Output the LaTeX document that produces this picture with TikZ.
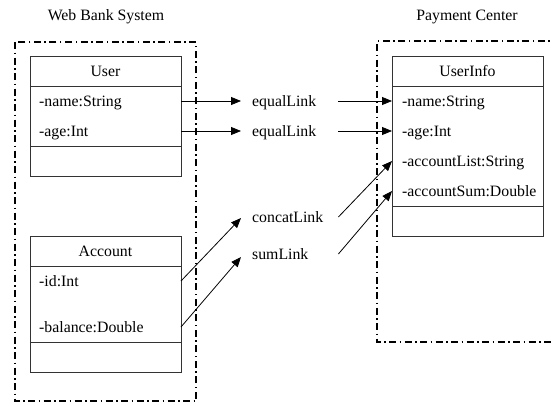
\documentclass[tikz,border=0pt]{standalone}
\usepackage{fontspec}
\setmainfont{Liberation Serif}
\usetikzlibrary{arrows.meta}

\tikzset{
  base/.style={font=\fontsize{15.8}{18}\selectfont, inner sep=0pt},
  title/.style={base, anchor=center},
  attr/.style={base, anchor=west, text height=10.5pt, text depth=0pt},
  link/.style={base, anchor=west, text width=86pt, align=left, text height=10.5pt, text depth=0pt},
  cls/.style={draw=black!80, line width=0.9pt, inner sep=0pt, outer sep=0pt, anchor=north west, minimum width=151pt},
  rule/.style={draw=black!80, line width=0.9pt},
  frame/.style={line width=1.5pt, dash pattern=on 7pt off 3.5pt on 1.5pt off 3.5pt},
  arr/.style={line width=0.8pt, -{Triangle[length=10pt, width=8pt]}}
}

\begin{document}
\begin{tikzpicture}[x=1pt, y=-1pt]
  \useasboundingbox (0,0) rectangle (552,405);

  % system frames
  \draw[frame] (15,42) rectangle (196,401);
  \draw[frame] (560,41) -- (377,41) -- (377,342) -- (560,342);
  \node[title] (wbs) at (106,17) {Web Bank System};
  \node[title] (pc) at (467,17) {Payment Center};

  % class User
  \node[cls, minimum height=120pt] (User) at (30,56) {};
  \draw[rule] (30,86) -- (181,86);
  \draw[rule] (30,146) -- (181,146);
  \node[title] (userT) at (105.5,71) {User};
  \node[attr] (uName) at (39,101) {-name:String};
  \node[attr] (uAge) at (39,131) {-age:Int};

  % class Account
  \node[cls, minimum height=136pt] (Account) at (30,236) {};
  \draw[rule] (30,266) -- (181,266);
  \draw[rule] (30,342) -- (181,342);
  \node[title] (accT) at (105.5,251) {Account};
  \node[attr] (aId) at (39,281) {-id:Int};
  \node[attr] (aBal) at (39,327) {-balance:Double};

  % class UserInfo
  \node[cls, minimum height=180pt] (Info) at (392,56) {};
  \draw[rule] (392,86) -- (543,86);
  \draw[rule] (392,206) -- (543,206);
  \node[title] (infoT) at (467.5,71) {UserInfo};
  \node[attr] (iName) at (402,101) {-name:String};
  \node[attr] (iAge) at (402,131) {-age:Int};
  \node[attr] (iList) at (402,161) {-accountList:String};
  \node[attr] (iSum) at (402,191) {-accountSum:Double};

  % link labels
  \node[link] (eq1) at (252,101) {equalLink};
  \node[link] (eq2) at (252,131) {equalLink};
  \node[link] (cl) at (252,217) {concatLink};
  \node[link] (sl) at (252,254) {sumLink};

  % source attributes to links
  \draw[arr] (User.east |- uName) -- ([xshift=-11pt]eq1.west);
  \draw[arr] (User.east |- uAge) -- ([xshift=-11pt]eq2.west);
  \draw[arr] (Account.east |- aId) -- ([xshift=-11pt,yshift=-1pt]cl.west);
  \draw[arr] (Account.east |- aBal) -- ([xshift=-11pt,yshift=-3pt]sl.west);

  % links to target attributes
  \draw[arr] (eq1.east) -- (Info.west |- iName);
  \draw[arr] (eq2.east) -- (Info.west |- iAge);
  \draw[arr] (cl.east) -- (Info.west |- iList);
  \draw[arr] (sl.east) -- (Info.west |- iSum);
\end{tikzpicture}
\end{document}
